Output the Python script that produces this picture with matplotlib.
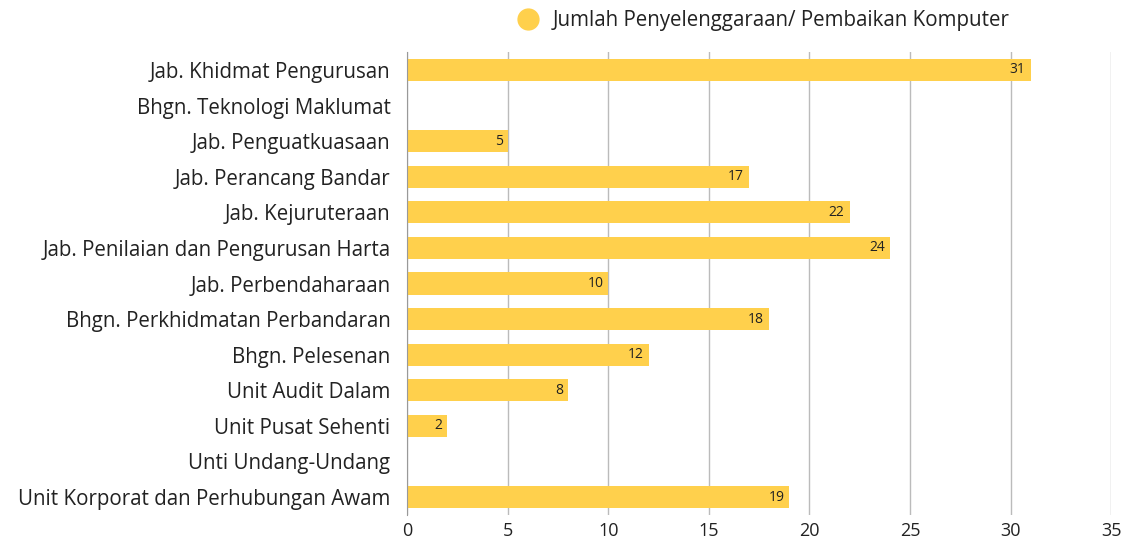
import matplotlib.pyplot as plt
from matplotlib.lines import Line2D

plt.rcParams['font.family'] = ['Open Sans', 'DejaVu Sans']

categories = [
    "Jab. Khidmat Pengurusan",
    "Bhgn. Teknologi Maklumat",
    "Jab. Penguatkuasaan",
    "Jab. Perancang Bandar",
    "Jab. Kejuruteraan",
    "Jab. Penilaian dan Pengurusan Harta",
    "Jab. Perbendaharaan",
    "Bhgn. Perkhidmatan Perbandaran",
    "Bhgn. Pelesenan",
    "Unit Audit Dalam",
    "Unit Pusat Sehenti",
    "Unti Undang-Undang",
    "Unit Korporat dan Perhubungan Awam",
]
values = [31, 0, 5, 17, 22, 24, 10, 18, 12, 8, 2, 0, 19]
series_name = "Jumlah Penyelenggaraan/ Pembaikan Komputer"
xticks = [0, 5, 10, 15, 20, 25, 30, 35]

BAR = "#FFD04C"

fig = plt.figure(figsize=(11.28, 5.38), dpi=100)
ax = fig.add_axes([0.361, 0.043, 0.624, 0.86])

y = list(range(len(categories)))
ax.barh(y, values, height=0.62, color=BAR, zorder=2)
for yi, v in zip(y, values):
    if v:
        ax.text(v - 0.25, yi, str(v), ha="right", va="center",
                fontsize=10, color="#222222", zorder=3)

ax.set_xlim(0, 35)
ax.set_ylim(len(categories) - 0.5, -0.5)
ax.set_yticks(y)
ax.set_yticklabels(categories, fontsize=14.8, color="#222222")
ax.set_xticks(xticks)
ax.set_xticklabels([str(t) for t in xticks], fontsize=13, color="#222222")
ax.tick_params(axis="both", length=0)
ax.tick_params(axis="y", pad=12)
ax.tick_params(axis="x", pad=5)
ax.grid(axis="x", color="#bbbbbb", linewidth=1, zorder=0)
for s in ["top", "right", "bottom"]:
    ax.spines[s].set_visible(False)
ax.spines["left"].set_color("#999999")

handle = Line2D([], [], marker="o", linestyle="none", markersize=15,
                markerfacecolor=BAR, markeredgecolor=BAR)
fig.legend([handle], [series_name], loc="center", bbox_to_anchor=(0.672, 0.962),
           frameon=False, fontsize=14.8, handletextpad=0.2, labelcolor="#222222")

fig.savefig("out.png", dpi=100)
